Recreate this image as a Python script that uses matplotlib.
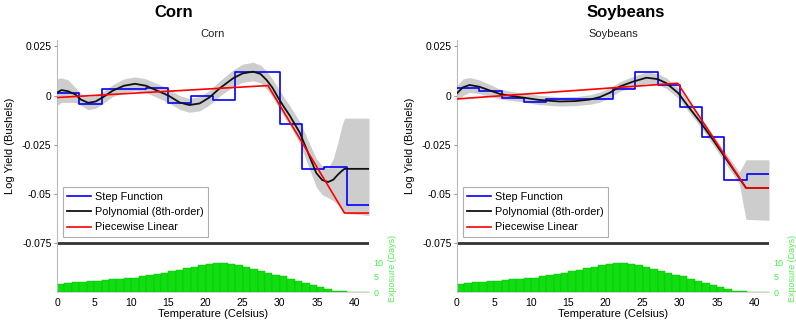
import matplotlib
matplotlib.use("Agg")
import matplotlib.pyplot as plt

plt.rcParams['font.family'] = ['Liberation Sans', 'DejaVu Sans']

# --- dados ---
step_edges = [0, 3, 6, 9, 12, 15, 18, 21, 24, 27, 30, 33, 36, 39, 42]
corn_step = [0.0015, -0.0044, 0.0033, 0.0033, 0.0040, -0.0039, 0.0000,
             -0.0025, 0.0119, 0.0119, -0.0144, -0.0373, -0.0366, -0.0559]
soy_step = [0.0039, 0.0022, -0.0010, -0.0034, -0.0018, -0.0018, -0.0016,
            0.0033, 0.0122, 0.0054, -0.0056, -0.0211, -0.0428, -0.0400]

corn_px = [0, 0.6, 1.5, 2.5, 3.2, 4.2, 5.2, 6.2, 7.5, 9, 10.5, 12, 13.5, 15,
           16.5, 17.8, 19.2, 20.5, 21.9, 23.7, 25, 26.4, 27.4, 28.2, 29,
           29.8, 30.5, 31.3, 32.7, 34, 34.9, 35.7, 36.5, 37.2, 37.8, 38.3,
           38.7, 42]
corn_poly = [0.0015, 0.0028, 0.0022, 0.0005, -0.0020, -0.0037, -0.0030,
             -0.0008, 0.0025, 0.0050, 0.0060, 0.0050, 0.0025, 0.0000,
             -0.0035, -0.0048, -0.0040, -0.0010, 0.0037, 0.0088, 0.0113,
             0.0122, 0.0110, 0.0080, 0.0040, -0.0013, -0.0055, -0.0100,
             -0.0190, -0.0310, -0.0394, -0.0430, -0.0440, -0.0428, -0.0403,
             -0.0385, -0.0373, -0.0373]
corn_hi = [0.0085, 0.0090, 0.0080, 0.0040, 0.0010, -0.0005, 0.0000, 0.0020,
           0.0055, 0.0085, 0.0095, 0.0085, 0.0060, 0.0035, 0.0000, -0.0015,
           -0.0005, 0.0025, 0.0075, 0.0130, 0.0160, 0.0170, 0.0155, 0.0125,
           0.0085, 0.0035, -0.0005, -0.0050, -0.0135, -0.0245, -0.0320,
           -0.0360, -0.0370, -0.0320, -0.0240, -0.0160, -0.0115, -0.0115]
corn_lo = [-0.0050, -0.0035, -0.0035, -0.0035, -0.0050, -0.0072, -0.0065,
           -0.0040, -0.0005, 0.0015, 0.0025, 0.0015, -0.0010, -0.0035,
           -0.0070, -0.0085, -0.0078, -0.0048, -0.0003, 0.0045, 0.0068,
           0.0075, 0.0065, 0.0035, -0.0005, -0.0060, -0.0105, -0.0150,
           -0.0245, -0.0375, -0.0465, -0.0505, -0.0520, -0.0535, -0.0555,
           -0.0580, -0.0600, -0.0610]

soy_px = [0, 0.8, 1.7, 3, 4.5, 5.8, 7.5, 8.9, 11, 13.8, 16, 17.9, 19.2, 20.6,
          21.9, 23.7, 25.5, 27, 28.2, 29.8, 31.3, 32.7, 34, 36, 38, 38.9, 42]
soy_poly = [0.0012, 0.0042, 0.0054, 0.0045, 0.0025, 0.0008, -0.0003, -0.0010,
            -0.0022, -0.0030, -0.0028, -0.0020, -0.0008, 0.0015, 0.0046,
            0.0071, 0.0091, 0.0084, 0.0063, 0.0012, -0.0064, -0.0132,
            -0.0200, -0.0310, -0.0420, -0.0470, -0.0470]
soy_hi = [0.0050, 0.0085, 0.0092, 0.0080, 0.0055, 0.0033, 0.0020, 0.0012,
          0.0002, -0.0007, -0.0005, 0.0004, 0.0018, 0.0040, 0.0070, 0.0098,
          0.0120, 0.0112, 0.0090, 0.0038, -0.0040, -0.0108, -0.0175,
          -0.0282, -0.0390, -0.0327, -0.0327]
soy_lo = [-0.0025, 0.0000, 0.0016, 0.0010, -0.0005, -0.0017, -0.0026,
          -0.0032, -0.0046, -0.0053, -0.0051, -0.0044, -0.0034, -0.0010,
          0.0022, 0.0044, 0.0062, 0.0056, 0.0036, -0.0014, -0.0088, -0.0156,
          -0.0225, -0.0338, -0.0450, -0.0630, -0.0635]

corn_pw_x = [0, 28.4, 38.7, 42]
corn_pw_y = [-0.0010, 0.0051, -0.0598, -0.0598]
soy_pw_x = [0, 29.7, 38.9, 42]
soy_pw_y = [-0.0017, 0.0063, -0.0470, -0.0470]

# dias de exposição por grau (mesma distribuição nos dois painéis)
temp_bins = list(range(0, 42))
exposure = [2.8, 3.0, 3.2, 3.4, 3.6, 3.8, 4.0, 4.2, 4.4, 4.6, 4.8, 5.2, 5.6,
            6.0, 6.5, 7.0, 7.5, 8.0, 8.5, 8.9, 9.3, 9.6, 9.7, 9.4, 8.9, 8.3,
            7.7, 7.1, 6.5, 5.8, 5.2, 4.5, 3.8, 3.1, 2.4, 1.7, 1.0, 0.5, 0.2,
            0.1, 0.05, 0.0]

ytick_vals = [0.025, 0, -0.025, -0.05, -0.075]
ytick_labels = ['0.025', '0', '-0.025', '-0.05', '-0.075']
xtick_vals = [0, 5, 10, 15, 20, 25, 30, 35, 40]


def desenha_painel(ax, titulo, step_vals, px, poly, hi, lo, pw_x, pw_y):
    ax.fill_between(px, lo, hi, color='#cdcdcd', lw=0, zorder=1)
    ax.step(step_edges, list(step_vals) + [step_vals[-1]], where='post',
            color='#0000ff', lw=1.2, label='Step Function', zorder=3)
    ax.plot(px, poly, color='#111111', lw=1.3,
            label='Polynomial (8th-order)', zorder=4)
    ax.plot(pw_x, pw_y, color='#ff0000', lw=1.2, label='Piecewise Linear',
            zorder=5)
    ax.axhline(-0.075, color='#333333', lw=2, zorder=2)

    ax.set_xlim(0, 42)
    ax.set_ylim(-0.1, 0.0283)
    ax.set_yticks(ytick_vals)
    ax.set_yticklabels(ytick_labels)
    ax.set_xticks(xtick_vals)
    ax.tick_params(axis='x', length=0, labelsize=7.5, pad=4)
    ax.tick_params(axis='y', length=2, labelsize=7.5, color='#999999', pad=2)
    for lado in ['top', 'right']:
        ax.spines[lado].set_visible(False)
    ax.spines['left'].set_color('#bbbbbb')
    ax.spines['bottom'].set_color('#cccccc')
    ax.spines['bottom'].set_linewidth(0.6)

    ax.set_title(titulo, fontsize=8, pad=2, color='#222222')
    ax.set_ylabel('Log Yield (Bushels)', fontsize=8)
    ax.yaxis.set_label_coords(-0.135, 0.58)
    ax.set_xlabel('Temperature (Celsius)', fontsize=8, labelpad=1)

    leg = ax.legend(loc='upper left', bbox_to_anchor=(0.018, 0.418),
                    fontsize=7.8, frameon=True, fancybox=False,
                    handlelength=2.2, handletextpad=0.3, borderpad=0.45,
                    labelspacing=0.5, borderaxespad=0)
    leg.get_frame().set_edgecolor('#999999')
    leg.get_frame().set_linewidth(0.8)

    # histograma de exposição no eixo da direita
    ax2 = ax.twinx()
    ax2.bar([t + 0.5 for t in temp_bins], exposure, width=1.0,
            color='#11dd11', edgecolor='#00c000', linewidth=0.3, zorder=1)
    ax2.set_ylim(0, 84)
    ax2.set_yticks([0, 5, 10])
    ax2.tick_params(axis='y', length=0, labelsize=6.5, colors='#44ee44',
                    pad=3)
    for lado in ['top', 'right', 'left', 'bottom']:
        ax2.spines[lado].set_visible(False)
    ax2.set_ylabel('Exposure (Days)', fontsize=6.5, color='#55ee55')
    ax2.yaxis.set_label_coords(1.06, 0.095)
    ax.set_zorder(ax2.get_zorder() + 1)
    ax.patch.set_visible(False)


fig = plt.figure(figsize=(7.96, 3.22), dpi=100)
ax_corn = fig.add_axes([57 / 796, 30 / 322, 312 / 796, 252 / 322])
ax_soy = fig.add_axes([457 / 796, 30 / 322, 312 / 796, 252 / 322])

desenha_painel(ax_corn, 'Corn', corn_step, corn_px, corn_poly, corn_hi,
               corn_lo, corn_pw_x, corn_pw_y)
desenha_painel(ax_soy, 'Soybeans', soy_step, soy_px, soy_poly, soy_hi,
               soy_lo, soy_pw_x, soy_pw_y)

fig.text(174 / 796, 1 - 12.5 / 322, 'Corn', ha='center', va='center',
         fontsize=12, fontweight='bold')
fig.text(625.7 / 796, 1 - 12.5 / 322, 'Soybeans', ha='center', va='center',
         fontsize=12, fontweight='bold')

fig.savefig('out.png', dpi=100)
